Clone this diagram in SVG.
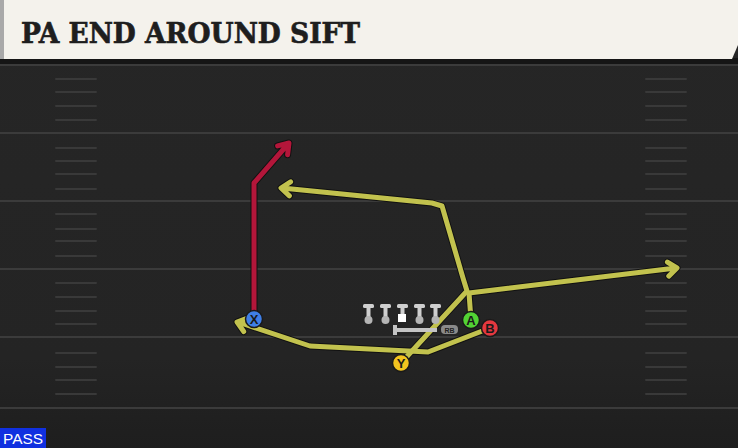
<svg xmlns="http://www.w3.org/2000/svg" width="738" height="448" viewBox="0 0 738 448">
<defs>
<linearGradient id="fieldg" x1="0" y1="0" x2="0" y2="1">
<stop offset="0" stop-color="#262626"/>
<stop offset="0.8" stop-color="#242424"/>
<stop offset="1" stop-color="#1e1e1e"/>
</linearGradient>
</defs>
<style>
.yard{stroke:#3b3b3b;stroke-width:2;fill:none}
.hash{stroke:#393939;stroke-width:2;fill:none;stroke-linecap:round}
.outl{fill:none;stroke:#111;stroke-width:7;stroke-linejoin:round;stroke-linecap:round}
.yel{fill:none;stroke:#c2c24e;stroke-width:5;stroke-linejoin:round;stroke-linecap:round}
.red{fill:none;stroke:#b3163a;stroke-width:5;stroke-linejoin:round;stroke-linecap:round}
.pl{stroke:#1a1a1a;stroke-width:1.5}
.pt{font-family:"Liberation Sans",Arial,sans-serif;font-weight:bold;font-size:13px;fill:#1a1a1a;text-anchor:middle}
</style>
<rect x="0" y="0" width="738" height="448" fill="url(#fieldg)"/>
<g id="header">
<rect x="0" y="58" width="738" height="7" fill="#151515"/>
<path d="M0,0 H738 V45 L732,59 H0 Z" fill="#f4f2ec"/>
<rect x="0" y="0" width="4" height="59" fill="#a9a9a9"/>
<text x="21" y="43" font-family="'DejaVu Serif',serif" font-weight="bold" font-stretch="condensed" font-size="28" fill="#1e1e1e" stroke="#1e1e1e" stroke-width="0.6" textLength="339" lengthAdjust="spacingAndGlyphs">PA END AROUND SIFT</text>
</g>
<g id="field">
<line class="yard" x1="0" y1="65" x2="738" y2="65"/>
<line class="yard" x1="0" y1="133" x2="738" y2="133"/>
<line class="yard" x1="0" y1="201" x2="738" y2="201"/>
<line class="yard" x1="0" y1="269" x2="738" y2="269"/>
<line class="yard" x1="0" y1="337" x2="738" y2="337"/>
<line class="yard" x1="0" y1="408" x2="738" y2="408"/>
<path class="hash" d="M56,79H96M56,92H96M56,106H96M56,120H96M56,148H96M56,161H96M56,174H96M56,189H96M56,214H96M56,229H96M56,241H96M56,256H96M56,283H96M56,297H96M56,311H96M56,324H96M56,353H96M56,367H96M56,380H96M56,394H96"/>
<path class="hash" d="M646,79H686M646,92H686M646,106H686M646,120H686M646,148H686M646,161H686M646,174H686M646,189H686M646,214H686M646,229H686M646,241H686M646,256H686M646,283H686M646,297H686M646,311H686M646,324H686M646,353H686M646,367H686M646,380H686M646,394H686"/>
</g>
<g id="routes">
<path class="outl" d="M254,319 L254,183 L288,144 M277.6,145.9 L289,143 L287.6,154.7"/>
<path class="red" d="M254,319 L254,183 L288,144 M277.6,145.9 L289,143 L287.6,154.7"/>
<path class="outl" d="M401,363 L467,291 L463,278 L442,206 L432,203 L282,188 M290.6,181.9 L281,188 L289.4,195.9"/>
<path class="outl" d="M471,320 L469,293 L676,268 M667.4,262.1 L677,268 L668.8,276.1"/>
<path class="outl" d="M490,328 L428,352 L310,346 L238,322 M247.5,318.1 L237,322 L243.7,331.5"/>
<path class="yel" d="M401,363 L467,291 L463,278 L442,206 L432,203 L282,188 M290.6,181.9 L281,188 L289.4,195.9"/>
<path class="yel" d="M471,320 L469,293 L676,268 M667.4,262.1 L677,268 L668.8,276.1"/>
<path class="yel" d="M490,328 L428,352 L310,346 L238,322 M247.5,318.1 L237,322 L243.7,331.5"/>
</g>
<g id="oline">
<g fill="#cfcfcf">
<rect x="363" y="304" width="11" height="4" rx="1.5"/><rect x="366.5" y="306" width="4" height="11"/><circle cx="368.5" cy="320" r="4" fill="#b5b5b5"/>
<rect x="380" y="304" width="11" height="4" rx="1.5"/><rect x="383.5" y="306" width="4" height="11"/><circle cx="385.5" cy="320" r="4" fill="#b5b5b5"/>
<rect x="397" y="304" width="11" height="4" rx="1.5"/><rect x="400.5" y="306" width="4" height="10"/>
<rect x="414" y="304" width="11" height="4" rx="1.5"/><rect x="417.5" y="306" width="4" height="11"/><circle cx="419.5" cy="320" r="4" fill="#b5b5b5"/>
<rect x="430" y="304" width="11" height="4" rx="1.5"/><rect x="433.5" y="306" width="4" height="11"/><circle cx="435.5" cy="320" r="4" fill="#b5b5b5"/>
</g>
<rect x="398" y="314" width="8" height="8" fill="#ffffff"/>
</g>
<g id="rb">
<path d="M393,325 H397 V328 H437 V332 H397 V335 H393 Z" fill="#c4c4c4"/>
<rect x="441" y="325" width="17" height="9" rx="4" fill="#8a8a8a"/>
<text x="449.5" y="332.5" font-family="'Liberation Sans',Arial,sans-serif" font-weight="bold" font-size="7" fill="#222" text-anchor="middle">RB</text>
</g>
<g id="player-x"><circle class="pl" cx="254" cy="319" r="8.5" fill="#3f7fe6"/><text class="pt" x="254" y="323.7">X</text></g>
<g id="player-a"><circle class="pl" cx="471" cy="320" r="8.5" fill="#52d334"/><text class="pt" x="471" y="324.7">A</text></g>
<g id="player-b"><circle class="pl" cx="490" cy="328" r="8.5" fill="#e5383f"/><text class="pt" x="490" y="332.7">B</text></g>
<g id="player-y"><circle class="pl" cx="401" cy="363" r="8.5" fill="#f2c41f"/><text class="pt" x="401" y="367.7">Y</text></g>
<g id="pass-label">
<rect x="0" y="428" width="46" height="20" fill="#1030e0"/>
<text x="23" y="443.5" font-family="'Liberation Sans',Arial,sans-serif" font-size="15" fill="#ffffff" text-anchor="middle" textLength="40" lengthAdjust="spacingAndGlyphs">PASS</text>
</g>
</svg>
